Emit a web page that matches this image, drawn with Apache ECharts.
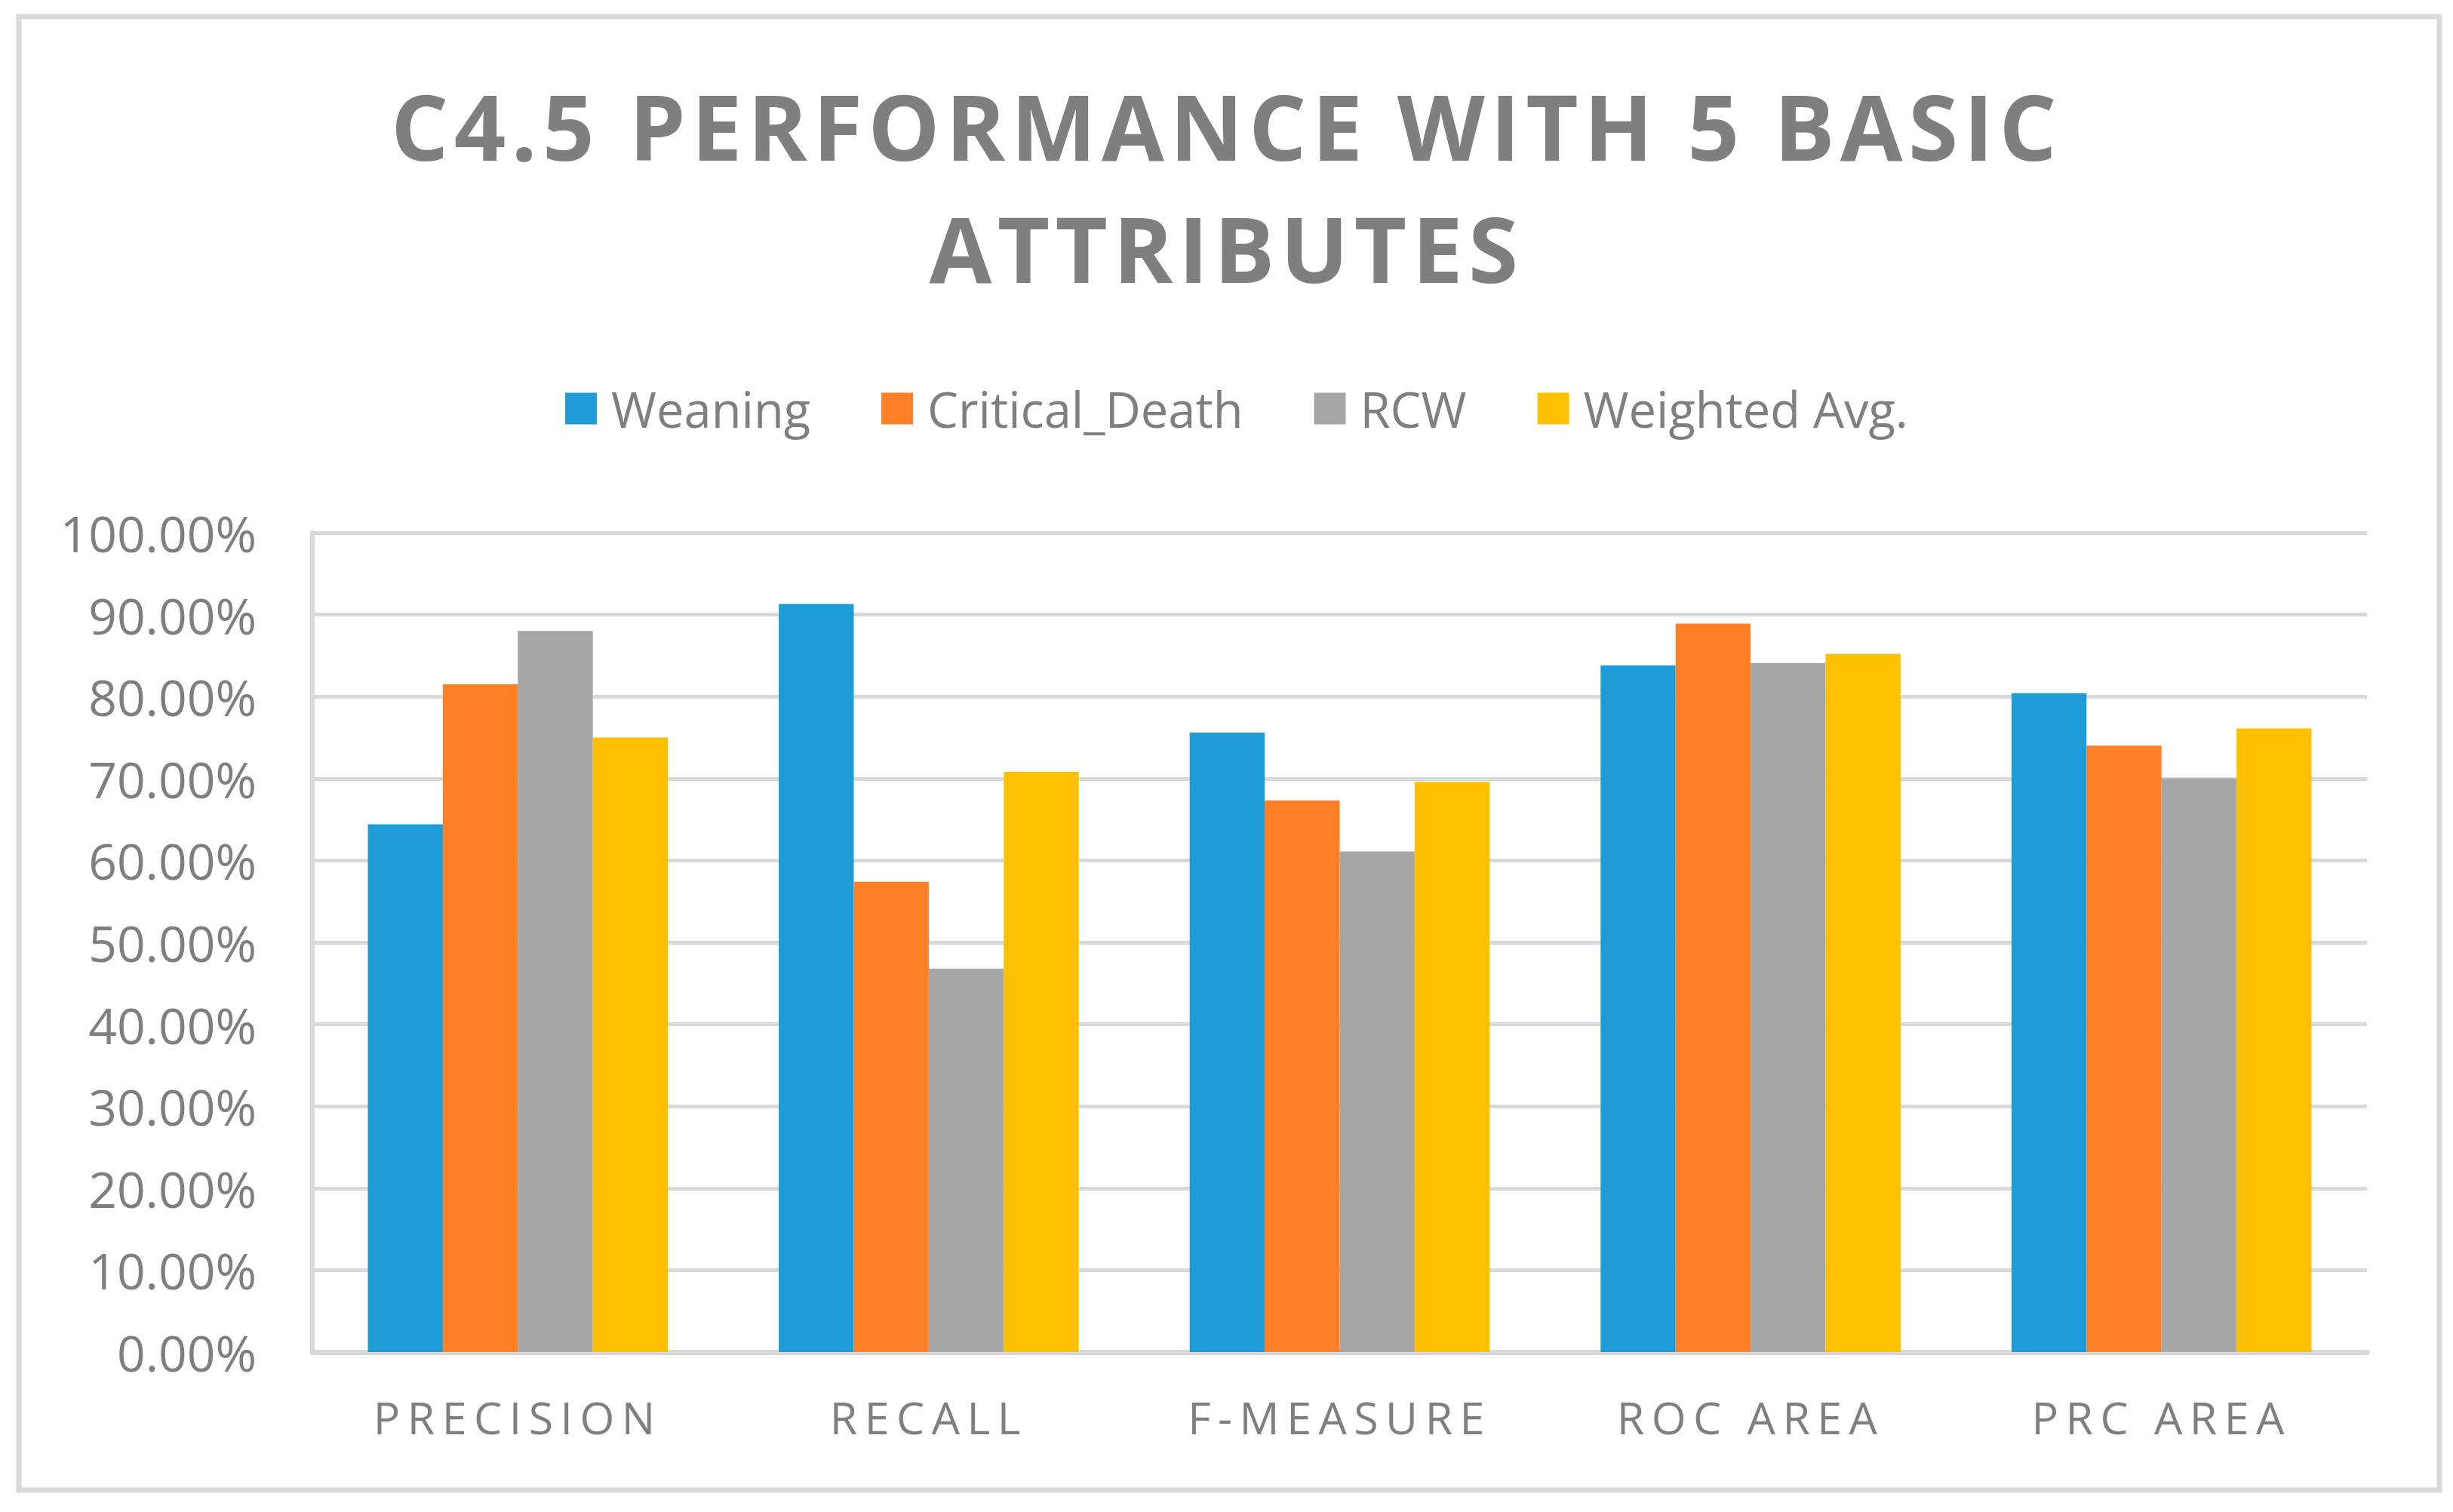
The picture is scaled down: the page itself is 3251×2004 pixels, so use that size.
<!DOCTYPE html>
<html>
<head>
<meta charset="utf-8">
<script src="https://cdn.jsdelivr.net/npm/echarts@6/dist/echarts.min.js"></script>
<style>
  html, body { margin: 0; padding: 0; background: #ffffff; }
  #chart { width: 3251px; height: 2004px; }
  svg text[style*="120px"] { letter-spacing: 7.3px !important; }
  svg text[style*=" 59px"] { letter-spacing: 9.5px !important; }
</style>
</head>
<body>
<div id="chart"></div>
<script>
var categories = ['PRECISION', 'RECALL', 'F-MEASURE', 'ROC AREA', 'PRC AREA'];
var seriesNames = ['Weaning', 'Critical_Death', 'RCW', 'Weighted Avg.'];
var weaning = [64.4, 91.3, 75.6, 83.8, 80.4];
var criticalDeath = [81.5, 57.4, 67.3, 88.9, 74.0];
var rcw = [88.0, 46.8, 61.1, 84.1, 70.0];
var weightedAvg = [75.0, 70.8, 69.6, 85.2, 76.1];
var colors = ['#1e9cd8', '#ff7f27', '#a6a6a6', '#ffc000'];
var yTicks = { min: 0, max: 100, interval: 10 };

var chart = echarts.init(document.getElementById('chart'), null, { renderer: 'svg' });
var gray = '#7f7f7f';
var font = 'Open Sans';
var values = [weaning, criticalDeath, rcw, weightedAvg];

chart.setOption({
  animation: false,
  backgroundColor: '#ffffff',
  color: colors,
  graphic: [{
    type: 'rect',
    shape: { x: 25, y: 22, width: 3208, height: 1953 },
    style: { fill: 'none', stroke: '#d9d9d9', lineWidth: 7 },
    silent: true, z: -10
  }],
  title: {
    text: 'C4.5 PERFORMANCE WITH 5 BASIC\nATTRIBUTES',
    left: 'center',
    top: 80,
    textStyle: {
      color: gray, fontFamily: font, fontWeight: 'bold',
      fontSize: 120, lineHeight: 162
    }
  },
  legend: {
    left: 744,
    top: 504,
    icon: 'rect',
    itemWidth: 42,
    itemHeight: 42,
    itemGap: 94,
    data: seriesNames,
    textStyle: { color: gray, fontFamily: font, fontSize: 65, padding: [0, 0, 0, 14] }
  },
  grid: { left: 414, right: 114, top: 706, bottom: 212, containLabel: false },
  xAxis: {
    type: 'category',
    data: categories,
    axisLine: { show: true, lineStyle: { color: '#d9d9d9', width: 7 } },
    axisTick: { show: false },
    axisLabel: { color: gray, fontFamily: font, fontSize: 59, margin: 56 }
  },
  yAxis: {
    type: 'value',
    min: yTicks.min, max: yTicks.max, interval: yTicks.interval,
    axisLine: { show: true, lineStyle: { color: '#d9d9d9', width: 6 } },
    axisTick: { show: false },
    splitLine: { show: true, lineStyle: { color: '#d9d9d9', width: 5 } },
    axisLabel: {
      color: gray, fontFamily: font, fontSize: 66, margin: 74,
      formatter: function (v) { return v.toFixed(2) + '%'; }
    }
  },
  series: seriesNames.map(function (name, i) {
    return {
      name: name,
      type: 'bar',
      data: values[i],
      barGap: '0%',
      barCategoryGap: '27%',
      itemStyle: { color: colors[i] }
    };
  })
});
</script>
</body>
</html>
